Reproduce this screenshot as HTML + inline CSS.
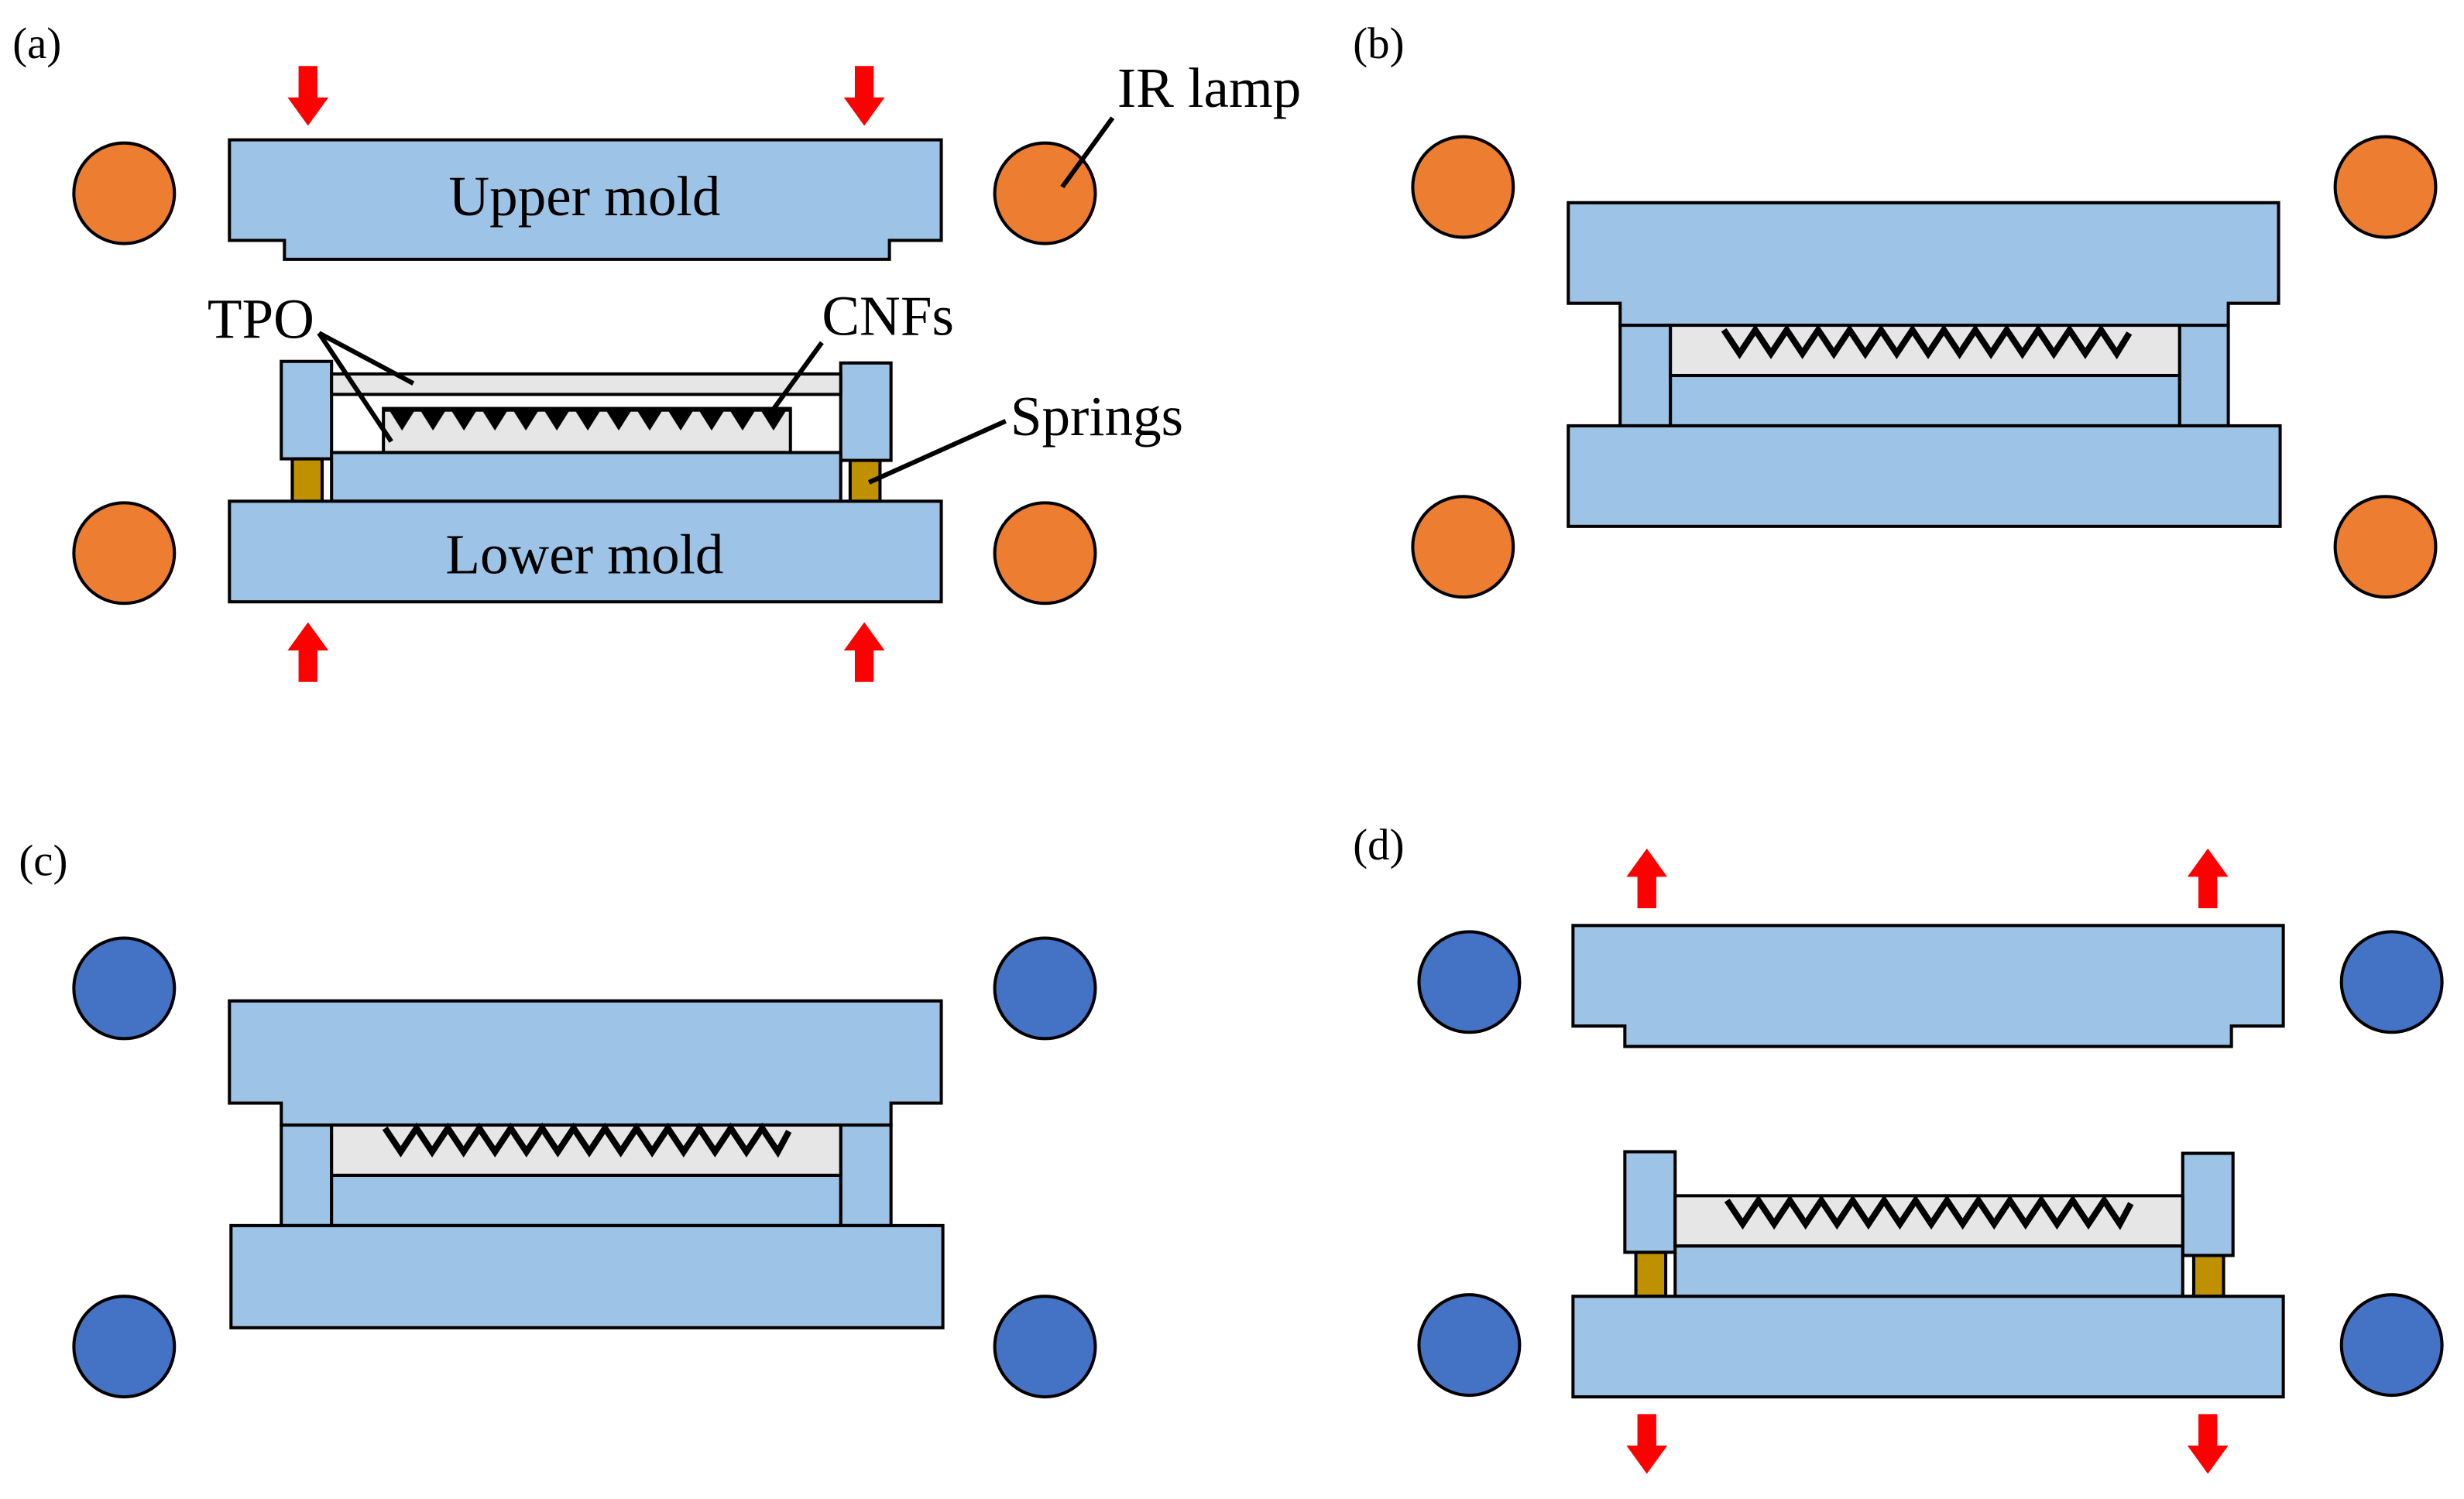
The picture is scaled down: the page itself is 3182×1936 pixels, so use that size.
<!DOCTYPE html>
<html><head><meta charset="utf-8"><style>
html,body{margin:0;padding:0;background:#fff;}
svg{display:block;}
text{font-family:"Liberation Serif",serif;fill:#000;}
</style></head><body>
<svg width="3182" height="1936" viewBox="0 0 1568 954" preserveAspectRatio="none" xmlns="http://www.w3.org/2000/svg">
<defs>
<pattern id="teeth" patternUnits="userSpaceOnUse" width="19.7" height="15" x="246" y="260">
<polygon points="1,0 18.7,0 9.85,14" fill="#000"/>
</pattern>
</defs>
<g stroke="#000" stroke-width="2">
<!-- (a) -->
<circle cx="79" cy="123" r="32" fill="#ED7D31"/>
<circle cx="665" cy="123" r="32" fill="#ED7D31"/>
<circle cx="79" cy="352" r="32" fill="#ED7D31"/>
<circle cx="665" cy="352" r="32" fill="#ED7D31"/>
<polygon points="146,89 599,89 599,153 566,153 566,165 181,165 181,153 146,153" fill="#9DC3E6"/>
<rect x="186" y="292" width="19" height="28" fill="#BF9000"/>
<rect x="541" y="292" width="19" height="28" fill="#BF9000"/>
<rect x="179" y="230" width="32" height="62" fill="#9DC3E6"/>
<rect x="535" y="231" width="32" height="62" fill="#9DC3E6"/>
<rect x="211" y="238" width="324" height="13" fill="#E6E6E6"/>
<rect x="244" y="260" width="259" height="28" fill="#E6E6E6"/>
<rect x="211" y="288" width="324" height="31" fill="#9DC3E6"/>
<rect x="146" y="319" width="453" height="64" fill="#9DC3E6"/>
<!-- (b) -->
<circle cx="931" cy="119" r="32" fill="#ED7D31"/>
<circle cx="1518" cy="119" r="32" fill="#ED7D31"/>
<circle cx="931" cy="348" r="32" fill="#ED7D31"/>
<circle cx="1518" cy="348" r="32" fill="#ED7D31"/>
<polygon points="998,129 1450,129 1450,193 1418,193 1418,207 1031,207 1031,193 998,193" fill="#9DC3E6"/>
<rect x="1031" y="207" width="32" height="64" fill="#9DC3E6"/>
<rect x="1387" y="207" width="31" height="64" fill="#9DC3E6"/>
<rect x="1063" y="207" width="324" height="32" fill="#E6E6E6"/>
<rect x="1063" y="239" width="324" height="32" fill="#9DC3E6"/>
<rect x="998" y="271" width="453" height="64" fill="#9DC3E6"/>
<!-- (c) -->
<circle cx="79" cy="629" r="32" fill="#4472C4"/>
<circle cx="665" cy="629" r="32" fill="#4472C4"/>
<circle cx="79" cy="857" r="32" fill="#4472C4"/>
<circle cx="665" cy="857" r="32" fill="#4472C4"/>
<polygon points="146,637 599,637 599,702 567,702 567,716 179,716 179,702 146,702" fill="#9DC3E6"/>
<rect x="179" y="716" width="32" height="64" fill="#9DC3E6"/>
<rect x="535" y="716" width="32" height="64" fill="#9DC3E6"/>
<rect x="211" y="716" width="324" height="32" fill="#E6E6E6"/>
<rect x="211" y="748" width="324" height="32" fill="#9DC3E6"/>
<rect x="147" y="780" width="453" height="65" fill="#9DC3E6"/>
<!-- (d) -->
<circle cx="935" cy="625" r="32" fill="#4472C4"/>
<circle cx="1522" cy="625" r="32" fill="#4472C4"/>
<circle cx="935" cy="856" r="32" fill="#4472C4"/>
<circle cx="1522" cy="856" r="32" fill="#4472C4"/>
<polygon points="1001,589 1453,589 1453,653 1420,653 1420,666 1034,666 1034,653 1001,653" fill="#9DC3E6"/>
<rect x="1041" y="797" width="19" height="28" fill="#BF9000"/>
<rect x="1396" y="799" width="19" height="26" fill="#BF9000"/>
<rect x="1034" y="733" width="32" height="64" fill="#9DC3E6"/>
<rect x="1389" y="734" width="32" height="65" fill="#9DC3E6"/>
<rect x="1066" y="761" width="323" height="32" fill="#E6E6E6"/>
<rect x="1066" y="793" width="323" height="32" fill="#9DC3E6"/>
<rect x="1001" y="825" width="452" height="64" fill="#9DC3E6"/>
</g>
<!-- CNF textures -->
<rect x="244" y="259" width="259" height="3" fill="#000"/>
<rect x="246" y="260" width="256" height="14" fill="url(#teeth)"/>
<g fill="none" stroke="#000" stroke-width="4" stroke-linejoin="miter">
<polyline points="1097,210 1107,225 1117,210 1127,225 1137,210 1147,225 1157,210 1167,225 1177,210 1187,225 1197,210 1207,225 1217,210 1227,225 1237,210 1247,225 1257,210 1267,225 1277,210 1287,225 1297,210 1307,225 1317,210 1327,225 1337,210 1347,225 1355,212"/>
<polyline points="245,718 255,733 265,718 275,733 285,718 295,733 305,718 315,733 325,718 335,733 345,718 355,733 365,718 375,733 385,718 395,733 405,718 415,733 425,718 435,733 445,718 455,733 465,718 475,733 485,718 495,733 502,720"/>
<polyline points="1099,764 1109,779 1119,764 1129,779 1139,764 1149,779 1159,764 1169,779 1179,764 1189,779 1199,764 1209,779 1219,764 1229,779 1239,764 1249,779 1259,764 1269,779 1279,764 1289,779 1299,764 1309,779 1319,764 1329,779 1339,764 1349,779 1356,766"/>
</g>
<!-- leader lines -->
<g stroke="#000" stroke-width="3" fill="none">
<line x1="708" y1="75" x2="676" y2="119"/>
<line x1="203" y1="212" x2="263" y2="244"/>
<line x1="203" y1="212" x2="249" y2="281"/>
<line x1="523" y1="218" x2="491" y2="262"/>
<line x1="640" y1="268" x2="553" y2="307"/>
</g>
<!-- red arrows -->
<g fill="#FF0000">
<polygon points="190,42 202,42 202,62 209,62 196,80 183,62 190,62"/>
<polygon points="544,42 556,42 556,62 563,62 550,80 537,62 544,62"/>
<polygon points="190,434 202,434 202,414 209,414 196,396 183,414 190,414"/>
<polygon points="544,434 556,434 556,414 563,414 550,396 537,414 544,414"/>
<polygon points="1042,578 1054,578 1054,558 1061,558 1048,540 1035,558 1042,558"/>
<polygon points="1399,578 1411,578 1411,558 1418,558 1405,540 1392,558 1399,558"/>
<polygon points="1042,900 1054,900 1054,920 1061,920 1048,938 1035,920 1042,920"/>
<polygon points="1399,900 1411,900 1411,920 1418,920 1405,938 1392,920 1399,920"/>
</g>
<!-- labels -->
<text x="8" y="37" font-size="28">(a)</text>
<text x="861" y="37" font-size="28">(b)</text>
<text x="12" y="557" font-size="28">(c)</text>
<text x="861" y="547" font-size="28">(d)</text>
<text x="372" y="137" font-size="36" text-anchor="middle">Upper mold</text>
<text x="372" y="365" font-size="36" text-anchor="middle">Lower mold</text>
<text x="711" y="68" font-size="36">IR lamp</text>
<text x="132" y="215" font-size="36">TPO</text>
<text x="523" y="213" font-size="36">CNFs</text>
<text x="643" y="277" font-size="36">Springs</text>
</svg>
</body></html>
